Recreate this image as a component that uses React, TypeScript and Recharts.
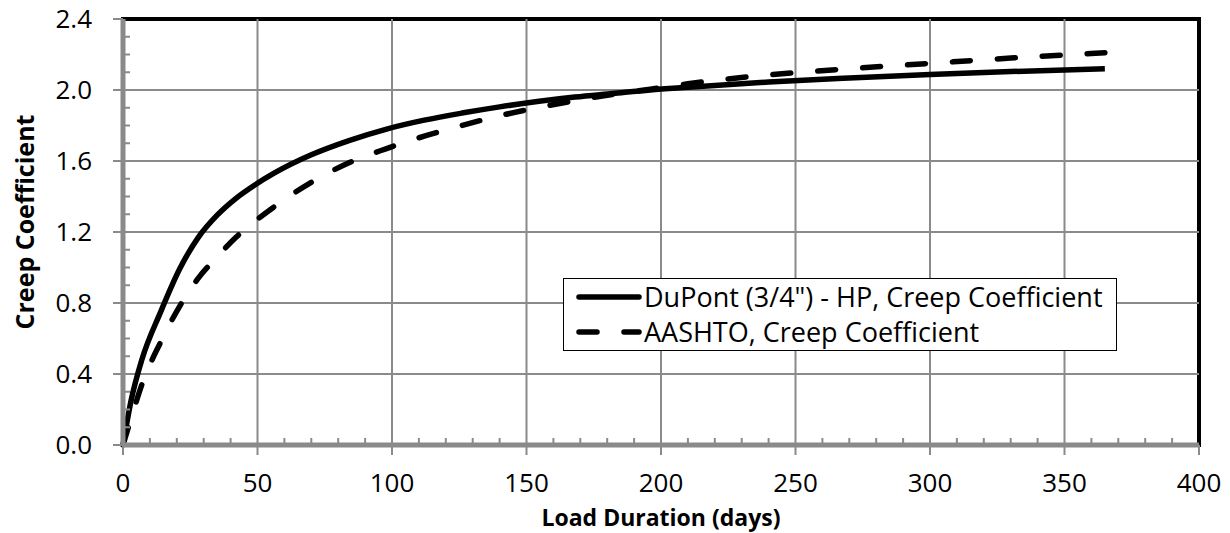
import {
  LineChart,
  Line,
  XAxis,
  YAxis,
  ReferenceLine,
  ReferenceArea,
  Legend,
} from 'recharts';

// load duration (days) and creep coefficients
const days = [0, 3, 7, 14, 21, 28, 35, 42, 49, 56, 70, 84, 98, 112, 126, 140, 154, 168, 182, 196, 210, 240, 270, 300, 330, 365];
const dupont = [0, 0.25, 0.48, 0.75, 0.99, 1.17, 1.295, 1.39, 1.465, 1.53, 1.635, 1.715, 1.78, 1.83, 1.87, 1.905, 1.935, 1.96, 1.98, 2.0, 2.015, 2.045, 2.068, 2.088, 2.104, 2.12];
const aashto = [0, 0.15, 0.34, 0.58, 0.78, 0.94, 1.06, 1.17, 1.26, 1.34, 1.48, 1.59, 1.67, 1.74, 1.8, 1.855, 1.9, 1.94, 1.975, 2.005, 2.035, 2.085, 2.12, 2.15, 2.18, 2.21];

const xMajor = [0, 50, 100, 150, 200, 250, 300, 350, 400];
const yMajor = [0, 0.4, 0.8, 1.2, 1.6, 2.0, 2.4];
const xMinorStep = 10;
const yMinorStep = 0.1;

const seriesOrder = ['dupont', 'aashto'];
const seriesNames = {
  dupont: 'DuPont (3/4") - HP, Creep Coefficient',
  aashto: 'AASHTO, Creep Coefficient',
};

const data = days.map((d, i) => ({ day: d, dupont: dupont[i], aashto: aashto[i] }));

const withMinor = (major: number[], step: number) => {
  const out: number[] = [];
  for (let i = 0; i < major.length - 1; i++) {
    const n = Math.round((major[i + 1] - major[i]) / step);
    for (let k = 0; k < n; k++) out.push(major[i] + k * step);
  }
  out.push(major[major.length - 1]);
  return out;
};
const xTicks = withMinor(xMajor, xMinorStep);
const yTicks = withMinor(yMajor, yMinorStep);
const isMajor = (list: number[], v: number) => list.some((m) => Math.abs(m - v) < 1e-6);

const FONT = '"Open Sans", sans-serif';
const GRID = '#8a8a8a';
const DASH = '18 27';
const dashOf: Record<string, string | undefined> = { dupont: undefined, aashto: DASH };

function XTick({ x, y, payload }: any) {
  const v = payload.value;
  if (!isMajor(xMajor, v)) {
    return <line x1={x} x2={x} y1={y - 7} y2={y} stroke={GRID} strokeWidth={2} />;
  }
  return (
    <g>
      <line x1={x} x2={x} y1={y} y2={y + 10} stroke={GRID} strokeWidth={2} />
      <text x={x} y={y + 47} textAnchor="middle" fontFamily={FONT} fontSize={26} fill="#000">
        {v}
      </text>
    </g>
  );
}

function YTick({ x, y, payload }: any) {
  const v = payload.value;
  if (!isMajor(yMajor, v)) {
    return <line x1={x} x2={x + 7} y1={y} y2={y} stroke={GRID} strokeWidth={2} />;
  }
  return (
    <g>
      <line x1={x - 10} x2={x} y1={y} y2={y} stroke={GRID} strokeWidth={2} />
      <text x={x - 31} y={y} dy="0.36em" textAnchor="end" fontFamily={FONT} fontSize={26} fill="#000">
        {v.toFixed(1)}
      </text>
    </g>
  );
}

function XTitle({ viewBox }: any) {
  return (
    <text
      x={viewBox.x + viewBox.width / 2}
      y={viewBox.y + 81}
      textAnchor="middle"
      fontFamily={FONT}
      fontWeight="bold"
      fontSize={23}
      fill="#000"
    >
      Load Duration (days)
    </text>
  );
}

function YTitle({ viewBox }: any) {
  const cx = viewBox.x + 25;
  const cy = viewBox.y + viewBox.height / 2 - 10;
  return (
    <text
      x={cx}
      y={cy}
      dy="0.36em"
      transform={`rotate(-90 ${cx} ${cy})`}
      textAnchor="middle"
      fontFamily={FONT}
      fontWeight="bold"
      fontSize={25}
      fill="#000"
    >
      Creep Coefficient
    </text>
  );
}

function LegendBox({ payload }: any) {
  const items = [...(payload || [])].sort(
    (a: any, b: any) => seriesOrder.indexOf(a.dataKey) - seriesOrder.indexOf(b.dataKey),
  );
  return (
    <div
      style={{
        border: '1.5px solid #000',
        background: '#fff',
        width: 554,
        height: 73,
        boxSizing: 'border-box',
        fontFamily: FONT,
        fontSize: 27,
        color: '#000',
      }}
    >
      {items.map((entry: any) => (
        <div key={entry.dataKey} style={{ display: 'flex', alignItems: 'center', height: 35 }}>
          <svg width={80} height={14}>
            <line
              x1={15}
              x2={75}
              y1={7}
              y2={7}
              stroke="#000"
              strokeWidth={5.5}
              strokeLinecap="round"
              strokeDasharray={dashOf[entry.dataKey]}
            />
          </svg>
          <span style={{ whiteSpace: 'nowrap', lineHeight: '35px' }}>{entry.value}</span>
        </div>
      ))}
    </div>
  );
}

export default function App() {
  return (
    <div style={{ position: 'absolute', left: 0, top: 0, background: '#fff' }}>
      <LineChart width={1230} height={533} data={data} margin={{ top: 19, right: 31, left: 0, bottom: 0 }}>
        <XAxis
          dataKey="day"
          type="number"
          domain={[0, 400]}
          ticks={xTicks}
          interval={0}
          tickSize={0}
          tickMargin={0}
          tickLine={false}
          tick={<XTick />}
          axisLine={{ stroke: GRID, strokeWidth: 5 }}
          height={88}
          label={<XTitle />}
        />
        <YAxis
          type="number"
          domain={[0, 2.4]}
          ticks={yTicks}
          interval={0}
          tickSize={0}
          tickMargin={0}
          tickLine={false}
          tick={<YTick />}
          axisLine={{ stroke: GRID, strokeWidth: 5 }}
          width={123}
          label={<YTitle />}
        />
        {xMajor.slice(1, -1).map((v) => (
          <ReferenceLine key={`gx${v}`} x={v} stroke={GRID} strokeWidth={2} />
        ))}
        {yMajor.slice(1, -1).map((v) => (
          <ReferenceLine key={`gy${v}`} y={v} stroke={GRID} strokeWidth={2} />
        ))}
        <ReferenceArea x1={0} x2={400} y1={0} y2={2.4} fill="none" stroke="#000" strokeWidth={4} ifOverflow="visible" />
        <Legend
          layout="vertical"
          align="center"
          verticalAlign="middle"
          wrapperStyle={{ left: 563, top: 278, width: 554 }}
          content={(props: any) => <LegendBox {...props} />}
        />
        <Line
          type="monotone"
          dataKey="dupont"
          name={seriesNames.dupont}
          stroke="#000"
          strokeWidth={5.5}
          dot={false}
          isAnimationActive={false}
        />
        <Line
          type="monotone"
          dataKey="aashto"
          name={seriesNames.aashto}
          stroke="#000"
          strokeWidth={5.5}
          strokeDasharray={DASH}
          strokeLinecap="round"
          dot={false}
          isAnimationActive={false}
        />
      </LineChart>
    </div>
  );
}
